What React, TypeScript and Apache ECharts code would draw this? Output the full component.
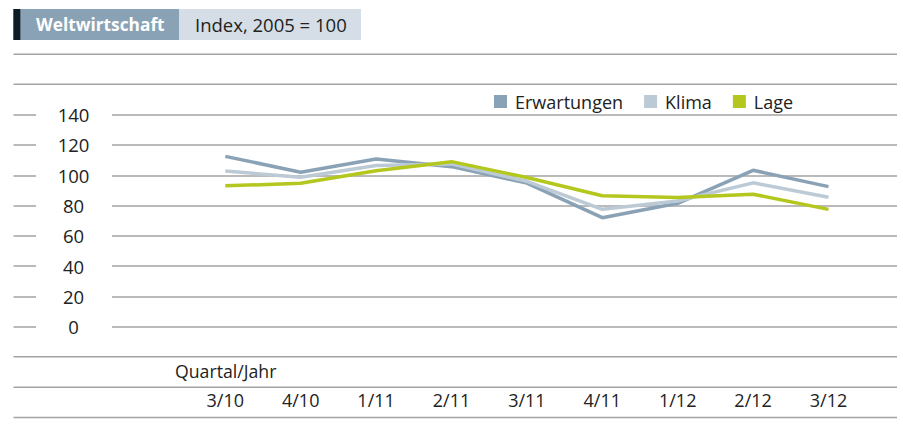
import React, { useEffect, useRef } from "react";
import * as echarts from "echarts";

const categories = ["3/10", "4/10", "1/11", "2/11", "3/11", "4/11", "1/12", "2/12", "3/12"];
const erwartungen = [112.5, 102, 110.8, 105.7, 94.8, 72, 81.5, 103.3, 92.5];
const klima = [102.8, 98.7, 106.5, 107.5, 96, 77.5, 83, 95, 85.5];
const lage = [93, 94.7, 103, 109, 98.5, 86.5, 85.3, 87.5, 77.5];
const seriesNames = ["Erwartungen", "Klima", "Lage"];
const yTicks = { min: 0, max: 140, interval: 20 };

const FONT = "'Open Sans', 'Noto Sans', sans-serif";
const GRID_TOP = 114.7;
const GRID_H = 212;
const LINE = "#a3a3a3";

export default function App() {
  const ref = useRef<HTMLDivElement>(null);
  useEffect(() => {
    if (!ref.current) return;
    const chart = echarts.init(ref.current, undefined, { renderer: "svg" });
    const fullLine = (y: number) => ({
      type: "line",
      shape: { x1: 13.5, y1: y, x2: 897, y2: y },
      style: { stroke: LINE, lineWidth: 1.5 },
      silent: true,
    });
    const colors = ["#8aa2b6", "#bccad6", "#b4c71f"];
    const data = [erwartungen, klima, lage];
    chart.setOption({
      animation: false,
      grid: [
        { left: 112, right: 6, top: GRID_TOP, height: GRID_H },
        { left: 187.6, width: 678.6, top: GRID_TOP, height: GRID_H },
        { left: 13.5, width: 22.5, top: GRID_TOP, height: GRID_H },
      ],
      xAxis: [
        { gridIndex: 0, type: "category", data: categories, show: false },
        {
          gridIndex: 1,
          type: "category",
          data: categories,
          boundaryGap: true,
          axisLine: { show: false },
          axisTick: { show: false },
          axisLabel: {
            margin: 64,
            fontFamily: FONT,
            fontSize: 18,
            color: "#222",
          },
        },
        { gridIndex: 2, type: "category", data: categories, show: false },
      ],
      yAxis: [
        {
          gridIndex: 0,
          type: "value",
          ...yTicks,
          axisLine: { show: false },
          axisTick: { show: false },
          splitLine: { lineStyle: { color: LINE, width: 1.5 } },
          axisLabel: {
            align: "center",
            margin: 38.5,
            fontFamily: FONT,
            fontSize: 18.5,
            color: "#222",
          },
        },
        { gridIndex: 1, type: "value", ...yTicks, show: false, splitLine: { show: false } },
        {
          gridIndex: 2,
          type: "value",
          ...yTicks,
          axisLine: { show: false },
          axisTick: { show: false },
          axisLabel: { show: false },
          splitLine: { lineStyle: { color: LINE, width: 1.5 } },
        },
      ],
      legend: {
        left: 494,
        top: 92.5,
        padding: 0,
        icon: "rect",
        itemWidth: 13,
        itemHeight: 13,
        itemGap: 21,
        data: seriesNames,
        textStyle: {
          fontFamily: FONT,
          fontSize: 18,
          color: "#222",
          padding: [0, 0, 0, 3],
        },
      },
      series: seriesNames.map((name, i) => ({
        name,
        type: "line",
        xAxisIndex: 1,
        yAxisIndex: 1,
        data: data[i],
        color: colors[i],
        symbol: "none",
        lineStyle: { width: 3.5, color: colors[i] },
        z: 3 + i,
      })),
      graphic: [
        fullLine(54.3),
        fullLine(84.3),
        fullLine(356.7),
        fullLine(387.2),
        fullLine(417.6),
        { type: "rect", shape: { x: 13.3, y: 9, width: 7.4, height: 31 }, style: { fill: "#0c1c26" }, silent: true },
        { type: "rect", shape: { x: 20.7, y: 9, width: 158.3, height: 31 }, style: { fill: "#8aa2b6" }, silent: true },
        { type: "rect", shape: { x: 179, y: 9, width: 182, height: 31 }, style: { fill: "#d5dee6" }, silent: true },
        {
          type: "text",
          x: 36,
          y: 24.5,
          style: {
            text: "Weltwirtschaft",
            fill: "#ffffff",
            font: `bold 17.3px ${FONT}`,
            verticalAlign: "middle",
          },
          silent: true,
        },
        {
          type: "text",
          x: 195,
          y: 24.5,
          style: {
            text: "Index, 2005 = 100",
            fill: "#222",
            font: `18.5px ${FONT}`,
            verticalAlign: "middle",
          },
          silent: true,
        },
        {
          type: "text",
          x: 175,
          y: 371,
          style: {
            text: "Quartal/Jahr",
            fill: "#222",
            font: `17.7px ${FONT}`,
            verticalAlign: "middle",
          },
          silent: true,
        },
      ],
    });
    return () => chart.dispose();
  }, []);
  return <div ref={ref} style={{ width: 903, height: 442, position: "absolute", left: 0, top: 0 }} />;
}
